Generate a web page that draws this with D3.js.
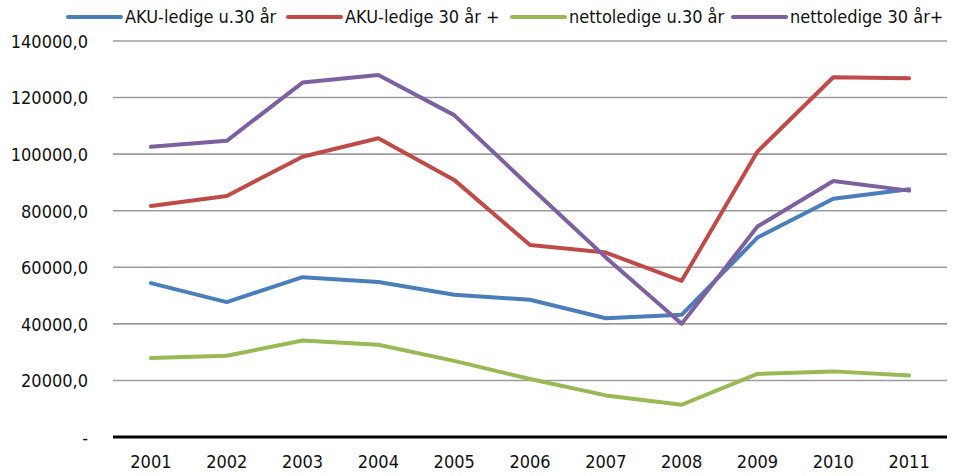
<!DOCTYPE html>
<html>
<head>
<meta charset="utf-8">
<script src="https://cdn.jsdelivr.net/npm/d3@7"></script>
<style>
  body { margin: 0; background: #fff; }
  svg text { font-family: "DejaVu Sans Condensed", "Liberation Sans Narrow", sans-serif; fill: #111; }
</style>
</head>
<body>
<figure id="line" style="margin:0"></figure>
<script>
const years = ['2001', '2002', '2003', '2004', '2005', '2006', '2007', '2008', '2009', '2010', '2011'];
const seriesNames = ['AKU-ledige u.30 år', 'AKU-ledige 30 år +', 'nettoledige u.30 år', 'nettoledige 30 år+'];
const akuUnder30 = [54400, 47700, 56500, 54800, 50300, 48500, 42000, 43200, 70500, 84200, 87600];
const aku30Plus = [81700, 85200, 99100, 105600, 90900, 67900, 65200, 55200, 100900, 127200, 126800];
const nettoUnder30 = [27900, 28700, 34100, 32600, 26900, 20500, 14700, 11400, 22300, 23200, 21700];
const netto30Plus = [102600, 104700, 125300, 128000, 113800, 88500, 63500, 40000, 74400, 90500, 87100];
const yTicks = [0, 20000, 40000, 60000, 80000, 100000, 120000, 140000];

const colors = ['#4a7ebb', '#be4b48', '#98b954', '#7d60a0'];
const allSeries = [akuUnder30, aku30Plus, nettoUnder30, netto30Plus];

const width = 958, height = 476;
const plotLeft = 113, plotRight = 947, plotTop = 41, plotBottom = 437;

const svg = d3.select('figure#line')
  .append('svg')
  .attr('width', width)
  .attr('height', height);

const x = d3.scaleBand()
  .domain(years)
  .range([plotLeft, plotRight])
  .padding(0);

const y = d3.scaleLinear()
  .domain([0, 140000])
  .range([plotBottom, plotTop]);

// gridlines
svg.append('g')
  .selectAll('line')
  .data(yTicks.filter(d => d > 0))
  .enter()
  .append('line')
  .attr('x1', plotLeft)
  .attr('x2', plotRight)
  .attr('y1', d => y(d))
  .attr('y2', d => y(d))
  .attr('stroke', '#9c9c9c')
  .attr('stroke-width', 1.6);

// y axis labels
const fmt = d => d === 0 ? '-' : d + ',0';
svg.append('g')
  .call(d3.axisLeft(y).tickValues(yTicks).tickFormat(fmt).tickSize(0).tickPadding(0))
  .attr('transform', 'translate(' + 88 + ',0)')
  .call(g => g.select('.domain').remove())
  .selectAll('text')
  .attr('font-size', 18)
  .attr('font-family', null)
  .attr('dy', '0.35em');

// x axis
svg.append('g')
  .attr('transform', 'translate(0,' + plotBottom + ')')
  .call(d3.axisBottom(x).tickSize(0).tickPadding(18))
  .call(g => g.select('.domain').attr('stroke', '#000').attr('stroke-width', 3).attr('d', 'M' + plotLeft + ',0H' + plotRight))
  .selectAll('text')
  .attr('font-size', 18)
  .attr('font-family', null);

svg.selectAll('.tick text').attr('fill', '#111');

// lines
const line = d3.line()
  .x((d, i) => x(years[i]) + x.bandwidth() / 2)
  .y(d => y(d));

svg.append('g')
  .selectAll('path')
  .data(allSeries)
  .enter()
  .append('path')
  .attr('d', d => line(d))
  .attr('fill', 'none')
  .attr('stroke', (d, i) => colors[i])
  .attr('stroke-width', 4)
  .attr('stroke-linejoin', 'round')
  .attr('stroke-linecap', 'round');

// legend
const legendX = [68, 288, 512, 733];
const legend = svg.append('g')
  .selectAll('g')
  .data(seriesNames)
  .enter()
  .append('g')
  .attr('transform', (d, i) => 'translate(' + legendX[i] + ',17)');

legend.append('line')
  .attr('x1', 0)
  .attr('x2', 53)
  .attr('stroke', (d, i) => colors[i])
  .attr('stroke-width', 4)
  .attr('stroke-linecap', 'round');

legend.append('text')
  .attr('x', 57)
  .attr('dy', '0.35em')
  .attr('font-size', 18)
  .text(d => d);
</script>
</body>
</html>
